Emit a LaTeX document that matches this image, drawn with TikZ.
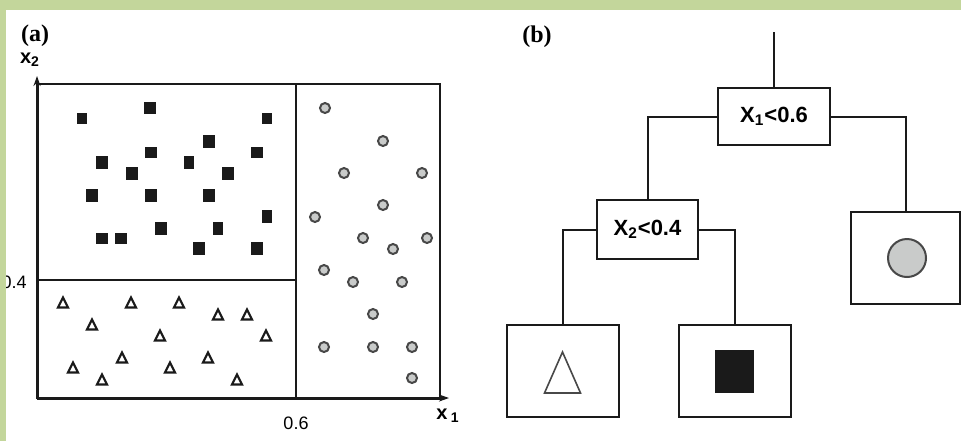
\documentclass[tikz,border=0pt]{standalone}
\usepackage{fontspec}
\setmainfont{Liberation Sans}
\newfontfamily\serifpanel{Liberation Serif}
\usetikzlibrary{arrows.meta}
\definecolor{SlideGreen}{HTML}{C3D69B}
\definecolor{MarkDark}{HTML}{1A1A1A}
\definecolor{MarkGray}{HTML}{C9CBCA}

\begin{document}
\begin{tikzpicture}[x=0.5pt,y=-0.5pt,
  sqmark/.style={fill=MarkDark},
  circmark/.style={draw=MarkDark!80,fill=MarkGray,line width=1pt},
  trimark/.style={draw=MarkDark,fill=white,line width=1.1pt,line join=miter},
  axisline/.style={MarkDark,line width=1.5pt,-{Stealth[length=5pt,width=3.5pt]}},
  splitbox/.style={draw=MarkDark,line width=1pt,fill=white,inner sep=0pt,minimum width=56pt,minimum height=28.5pt,font=\fontsize{11}{13}\selectfont\bfseries},
  leafbox/.style={draw=MarkDark,line width=1pt,inner sep=0pt,minimum width=56pt,minimum height=46pt},
  branch/.style={MarkDark,line width=1pt},
  ticklabel/.style={font=\fontsize{9}{11}\selectfont,inner sep=0pt},
  axislabel/.style={font=\fontsize{10}{12}\selectfont\bfseries},
  panellabel/.style={font=\fontsize{12}{14}\selectfont\serifpanel\bfseries}]
\path[use as bounding box] (0,0) rectangle (961,441);
\fill[white] (0,0) rectangle (961,441);
% (a) partition of the plane
\node[panellabel] (lbla) at (35,36) {(a)};
\draw[MarkDark,line width=1pt] (37,84) rectangle (440,398);
\draw[MarkDark,line width=1pt] (296,84) -- (296,398);
\draw[MarkDark,line width=1pt] (37,280) -- (296,280);
\draw[axisline] (37,398) -- (37,76);
\draw[axisline] (37,398) -- (449,398);
\node[axislabel] (lblx2) at (30,60) {x\textsubscript{2}};
\node[axislabel] (lblx1) at (448,416) {x\,\textsubscript{1}};
\node[ticklabel] (tick06) at (296,423) {0.6};
\node[ticklabel,anchor=east] (tick04) at (27,282) {0.4};
% squares
\fill[sqmark] (150,108) +(-6,-6) rectangle +(6,6);
\fill[sqmark] (82,118) +(-5,-5.5) rectangle +(5,5.5);
\fill[sqmark] (267,118) +(-5,-5.5) rectangle +(5,5.5);
\fill[sqmark] (209,141) +(-6,-6.5) rectangle +(6,6.5);
\fill[sqmark] (151,152) +(-6,-5.5) rectangle +(6,5.5);
\fill[sqmark] (257,152) +(-6,-5.5) rectangle +(6,5.5);
\fill[sqmark] (102,162) +(-6,-6.5) rectangle +(6,6.5);
\fill[sqmark] (189,162) +(-5,-6.5) rectangle +(5,6.5);
\fill[sqmark] (132,173) +(-6,-6.5) rectangle +(6,6.5);
\fill[sqmark] (228,173) +(-6,-6.5) rectangle +(6,6.5);
\fill[sqmark] (92,195) +(-6,-6.5) rectangle +(6,6.5);
\fill[sqmark] (151,195) +(-6,-6.5) rectangle +(6,6.5);
\fill[sqmark] (209,195) +(-6,-6.5) rectangle +(6,6.5);
\fill[sqmark] (267,216) +(-5,-6.5) rectangle +(5,6.5);
\fill[sqmark] (161,228) +(-6,-6.5) rectangle +(6,6.5);
\fill[sqmark] (218,228) +(-5,-6.5) rectangle +(5,6.5);
\fill[sqmark] (102,238) +(-6,-5.5) rectangle +(6,5.5);
\fill[sqmark] (121,238) +(-6,-5.5) rectangle +(6,5.5);
\fill[sqmark] (199,248) +(-6,-6.5) rectangle +(6,6.5);
\fill[sqmark] (257,248) +(-6,-6.5) rectangle +(6,6.5);
% circles
\draw[circmark] (325,108) circle (5);
\draw[circmark] (383,141) circle (5);
\draw[circmark] (344,173) circle (5);
\draw[circmark] (422,173) circle (5);
\draw[circmark] (383,205) circle (5);
\draw[circmark] (315,217) circle (5);
\draw[circmark] (363,238) circle (5);
\draw[circmark] (427,238) circle (5);
\draw[circmark] (393,249) circle (5);
\draw[circmark] (324,270) circle (5);
\draw[circmark] (353,282) circle (5);
\draw[circmark] (402,282) circle (5);
\draw[circmark] (373,314) circle (5);
\draw[circmark] (324,347) circle (5);
\draw[circmark] (373,347) circle (5);
\draw[circmark] (412,347) circle (5);
\draw[circmark] (412,378) circle (5);
% triangles
\draw[trimark] (63,303) +(0,-5.5) -- +(5,4.5) -- +(-5,4.5) -- cycle;
\draw[trimark] (131,303) +(0,-5.5) -- +(5,4.5) -- +(-5,4.5) -- cycle;
\draw[trimark] (179,303) +(0,-5.5) -- +(5,4.5) -- +(-5,4.5) -- cycle;
\draw[trimark] (218,315) +(0,-5.5) -- +(5,4.5) -- +(-5,4.5) -- cycle;
\draw[trimark] (247,315) +(0,-5.5) -- +(5,4.5) -- +(-5,4.5) -- cycle;
\draw[trimark] (92,325) +(0,-5.5) -- +(5,4.5) -- +(-5,4.5) -- cycle;
\draw[trimark] (160,336) +(0,-5.5) -- +(5,4.5) -- +(-5,4.5) -- cycle;
\draw[trimark] (266,336) +(0,-5.5) -- +(5,4.5) -- +(-5,4.5) -- cycle;
\draw[trimark] (122,358) +(0,-5.5) -- +(5,4.5) -- +(-5,4.5) -- cycle;
\draw[trimark] (208,358) +(0,-5.5) -- +(5,4.5) -- +(-5,4.5) -- cycle;
\draw[trimark] (73,368) +(0,-5.5) -- +(5,4.5) -- +(-5,4.5) -- cycle;
\draw[trimark] (170,368) +(0,-5.5) -- +(5,4.5) -- +(-5,4.5) -- cycle;
\draw[trimark] (102,380) +(0,-5.5) -- +(5,4.5) -- +(-5,4.5) -- cycle;
\draw[trimark] (237,380) +(0,-5.5) -- +(5,4.5) -- +(-5,4.5) -- cycle;
% (b) decision tree
\node[panellabel] (lblb) at (537,37) {(b)};
\coordinate (treetop) at (774,32);
\node[splitbox] (splitx1) at (774,116.5) {X\textsubscript{1}<0.6};
\node[splitbox,minimum width=50.5pt,minimum height=29.5pt] (splitx2) at (647.5,229.5) {X\textsubscript{2}<0.4};
\node[leafbox] (leaftri) at (562.5,371) {};
\node[leafbox] (leafsq) at (735,371) {};
\node[leafbox,minimum width=54.5pt] (leafcirc) at (905.5,258) {};
\draw[branch] (treetop) -- (splitx1);
\draw[branch] (splitx1.west) -| (splitx2.north);
\draw[branch] (splitx1.east) -| (leafcirc.north);
\draw[branch] (splitx2.west) -| (leaftri.north);
\draw[branch] (splitx2.east) -| (leafsq.north);
\draw[draw=MarkDark!80,fill=white,line width=0.8pt,line join=miter] (leaftri.center) +(0,-19) -- +(18,22) -- +(-18,22) -- cycle;
\fill[MarkDark] (leafsq.center) +(-20,-21) rectangle +(19,22);
\draw[circmark] (leafcirc.center) +(1.5,0) circle (19);
% slide frame
\fill[SlideGreen] (0,0) rectangle (961,10);
\fill[SlideGreen] (0,0) rectangle (6,441);
\end{tikzpicture}
\end{document}
